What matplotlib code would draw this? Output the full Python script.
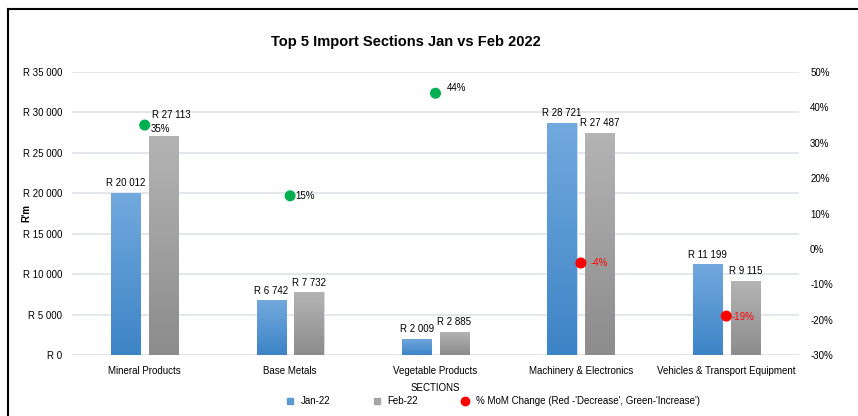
import matplotlib
matplotlib.use("Agg")
import matplotlib.pyplot as plt
import numpy as np
from matplotlib.lines import Line2D
from matplotlib.colors import LinearSegmentedColormap

plt.rcParams['font.family'] = ['Liberation Sans', 'DejaVu Sans']

categories = ["Mineral Products", "Base Metals", "Vegetable Products",
              "Machinery & Electronics", "Vehicles & Transport Equipment"]
jan22 = [20012, 6742, 2009, 28721, 11199]
feb22 = [27113, 7732, 2885, 27487, 9115]
mom_pct = [35, 15, 44, -4, -19]
left_ticks = [0, 5000, 10000, 15000, 20000, 25000, 30000, 35000]
right_ticks = [-30, -20, -10, 0, 10, 20, 30, 40, 50]

def rfmt(v):
    return "R " + f"{v:,}".replace(",", " ")

FS = 7
fig = plt.figure(figsize=(8.58, 4.16), dpi=100)
ax = fig.add_axes([72/858, 1-355/416, (799-72)/858, (355-72)/416])
ax2 = ax.twinx()

x = np.arange(len(categories))
w = 0.2
off = 0.13
blue_cmap = LinearSegmentedColormap.from_list("b", ["#3d84c6", "#72a9de"])
gray_cmap = LinearSegmentedColormap.from_list("g", ["#8c8c8c", "#b4b4b4"])

b1 = ax.bar(x - off, jan22, w, color="#5b9bd5", zorder=2, edgecolor="#cfe0f1", linewidth=0.6)
b2 = ax.bar(x + off, feb22, w, color="#a5a5a5", zorder=2, edgecolor="#dedede", linewidth=0.6)
grad = np.linspace(0, 1, 256).reshape(-1, 1)
for bars, cmap in ((b1, blue_cmap), (b2, gray_cmap)):
    for p in bars:
        x0, y0 = p.get_x(), p.get_y()
        im = ax.imshow(grad, cmap=cmap, origin="lower", aspect="auto",
                       extent=(x0, x0 + p.get_width(), y0, y0 + p.get_height()), zorder=2.1)
        im.set_clip_path(p)

for i in range(len(categories)):
    ax.text(x[i] - off, jan22[i] + 600, rfmt(jan22[i]), ha="center", va="bottom", fontsize=FS)
    extra = 1300 if i == 0 else 0
    dx = 0.05 if i == 0 else 0
    ax.text(x[i] + off + dx, feb22[i] + 600 + extra, rfmt(feb22[i]), ha="center", va="bottom", fontsize=FS)

ax.set_xlim(-0.5, 4.5)
ax.set_ylim(0, 35000)
ax.set_yticks(left_ticks)
ax.set_yticklabels([rfmt(v) for v in left_ticks], fontsize=FS)
ax.set_xticks(x)
ax.set_xticklabels(categories, fontsize=FS)
ax.tick_params(axis="y", length=0, pad=7)
ax.tick_params(axis="x", length=0, pad=8)
ax.grid(axis="y", color="#dfe3e8", linewidth=1.2, zorder=0)
ax.set_axisbelow(True)
for s in ax.spines.values():
    s.set_visible(False)
for s in ax2.spines.values():
    s.set_visible(False)
ax.set_ylabel("R'm", fontsize=FS, fontweight="bold")
ax.yaxis.set_label_coords((31 - 72) / 727, 0.5)
ax.set_xlabel("SECTIONS", fontsize=FS, labelpad=5)

ax2.set_ylim(-30, 50)
ax2.set_yticks(right_ticks)
ax2.set_yticklabels([f"{v}%" for v in right_ticks], fontsize=FS)
ax2.tick_params(length=0, pad=8)
colors = ["#00b050" if v > 0 else "#ff0000" for v in mom_pct]
ax2.scatter(x, mom_pct, s=48, c=colors, zorder=5)
offsets = [(4, -3), (4, 0), (8, 4), (7, 0), (4, -1)]
for i, v in enumerate(mom_pct):
    tc = "black" if v > 0 else "#ff0000"
    ax2.annotate(f"{v}%", (x[i], v), xytext=offsets[i], textcoords="offset points",
                 ha="left", va="center", fontsize=FS, color=tc)

fig.suptitle("Top 5 Import Sections Jan vs Feb 2022", x=406/858, y=1-42/416, va="center",
             fontsize=10.5, fontweight="bold")

handles = [
    Line2D([], [], marker="s", linestyle="none", color="#5b9bd5", markersize=4.5, label="Jan-22"),
    Line2D([], [], marker="s", linestyle="none", color="#a5a5a5", markersize=4.5, label="Feb-22"),
    Line2D([], [], marker="o", linestyle="none", color="#ff0000", markersize=6,
           label="% MoM Change (Red -'Decrease', Green-'Increase')"),
]
fig.legend(handles=handles, loc="center", bbox_to_anchor=(490/858, 1-401/416), ncol=3,
           frameon=False, fontsize=FS, handletextpad=0.1, columnspacing=3.8)

fig.add_artist(Line2D([8/858, 1.0], [1-9/416, 1-9/416], color="black", linewidth=1.5,
                      transform=fig.transFigure))
fig.add_artist(Line2D([8/858, 8/858], [0, 1-9/416], color="black", linewidth=1.5,
                      transform=fig.transFigure))

fig.savefig("out.png", dpi=100)
